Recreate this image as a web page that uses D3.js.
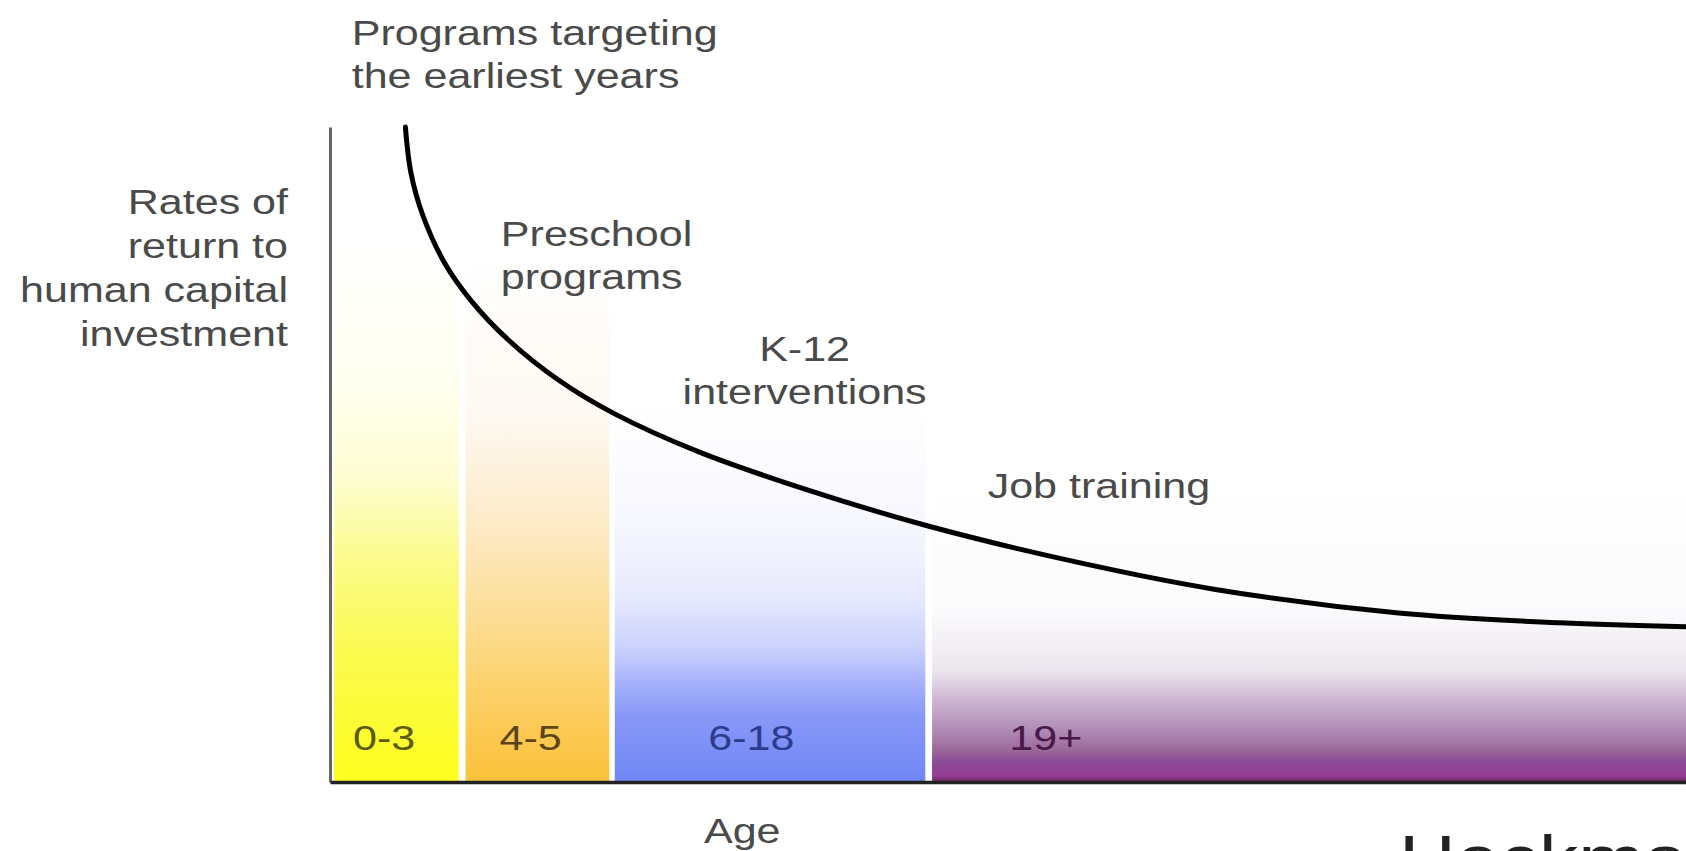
<!DOCTYPE html>
<html>
<head>
<meta charset="utf-8">
<script src="https://cdn.jsdelivr.net/npm/d3@7"></script>
<style>
  html, body { margin: 0; padding: 0; background: #fff; }
  svg { display: block; }
  text { font-family: "Liberation Sans", Arial, sans-serif; }
</style>
</head>
<body>
<div class="container"></div>
<script>
// age groups, as spans on the conceptual age axis (0..100)
const bandNames = ['0-3', '4-5', '6-18', '19+'];
const bandStart = [0.3, 10.0, 21.0, 44.4];
const bandEnd = [9.5, 20.6, 43.9, 100];

// rate of return curve
const curveX = [5.56, 5.96, 6.83, 8.41, 10.4, 13.2, 16.9, 21.0, 27.2, 35.2, 43.9, 55.0, 65.3, 78.8, 90.7, 100];
const curveY = [100, 93.1, 86.6, 79.4, 73.5, 67.4, 61.3, 56.2, 50.4, 44.6, 39.2, 33.6, 29.4, 25.8, 24.3, 23.7];

// annotations
const programLabels = [
  { lines: ['Programs targeting', 'the earliest years'], x: 1.6, y: 112.5, anchor: 'start' },
  { lines: ['Preschool', 'programs'], x: 12.6, y: 81.8, anchor: 'start' },
  { lines: ['K-12', 'interventions'], x: 35.0, y: 64.3, anchor: 'middle' },
  { lines: ['Job training'], x: 48.5, y: 43.4, anchor: 'start' }
];
const yTitle = ['Rates of', 'return to', 'human capital', 'investment'];
const xTitle = 'Age';

// styles
const bandStops = [
  [[0, '#ffffff'], [0.17, '#ffffff'], [0.39, '#fffff0'], [0.54, '#fdfdd0'], [0.65, '#fbfb90'], [0.8, '#fafa50'], [1, '#ffff1e']],
  [[0, '#ffffff'], [0.2, '#ffffff'], [0.45, '#fef8f0'], [0.63, '#fde8c0'], [0.8, '#fcd880'], [0.93, '#fcc850'], [1, '#fbc23a']],
  [[0, '#ffffff'], [0.42, '#ffffff'], [0.6, '#f7f8fe'], [0.72, '#e6e9fd'], [0.8, '#c8cffd'], [0.85, '#a4b0fb'], [0.9, '#8898f8'], [1, '#6f86f4']],
  [[0, '#ffffff'], [0.55, '#ffffff'], [0.74, '#fbfafc'], [0.83, '#ece6ee'], [0.86, '#d8c4dc'], [0.92, '#b08cb6'], [0.95, '#9c6a9c'], [0.97, '#8a4a96'], [0.99, '#963c94'], [1, '#6a2a60']]
];
const bandTextColors = ['#5a5a14', '#5c4418', '#2c3c8c', '#4a1848'];
const bandLabelX = [1.7, 12.5, 27.9, 50.1];

const width = 1686;
const height = 851;
const stretch = 1.23;
const fontSize = 35;
const lineGap = 43;

const x = d3.scaleLinear().domain([0, 100]).range([330, 1686]);
const y = d3.scaleLinear().domain([0, 100]).range([782, 127]);

const svg = d3.select('.container')
  .append('svg')
  .attr('width', width)
  .attr('height', height);

svg.append('rect')
  .attr('width', width)
  .attr('height', height)
  .attr('fill', '#fff');

// gradients for the age bands
const defs = svg.append('defs');
bandStops.forEach((stops, i) => {
  const grad = defs.append('linearGradient')
    .attr('id', 'band' + i)
    .attr('x1', 0).attr('y1', 0)
    .attr('x2', 0).attr('y2', 1);
  grad.selectAll('stop')
    .data(stops)
    .enter()
    .append('stop')
    .attr('offset', d => d[0])
    .attr('stop-color', d => d[1]);
});

// bands
svg.append('g')
  .selectAll('rect')
  .data(bandNames)
  .enter()
  .append('rect')
  .attr('x', (d, i) => x(bandStart[i]))
  .attr('y', y(100))
  .attr('width', (d, i) => x(bandEnd[i]) - x(bandStart[i]))
  .attr('height', y(0) - y(100))
  .attr('fill', (d, i) => `url(#band${i})`);

// helper for the horizontally wide text of the original
function stretchedText(g, str, px, py, anchor, size, color) {
  return g.append('text')
    .attr('transform', `translate(${px},${py}) scale(${stretch},1)`)
    .attr('text-anchor', anchor)
    .attr('font-size', size)
    .attr('fill', color)
    .text(str);
}

// band labels
const bandLabelG = svg.append('g');
bandNames.forEach((name, i) => {
  stretchedText(bandLabelG, name, x(bandLabelX[i]), y(4.9), 'start', fontSize, bandTextColors[i]);
});

// axes
const yAxis = svg.append('g')
  .attr('transform', `translate(${x(0)},0)`)
  .call(d3.axisLeft(y).ticks(0).tickSizeOuter(0));
yAxis.select('.domain').attr('stroke', '#666').attr('stroke-width', 3);

const xAxis = svg.append('g')
  .attr('transform', `translate(0,${y(0)})`)
  .call(d3.axisBottom(x).ticks(0).tickSizeOuter(0));
xAxis.select('.domain').attr('stroke', '#222').attr('stroke-width', 3.5);

// curve
const line = d3.line()
  .x(d => x(d[0]))
  .y(d => y(d[1]))
  .curve(d3.curveCatmullRom.alpha(0.5));

svg.append('path')
  .datum(curveX.map((v, i) => [v, curveY[i]]))
  .attr('d', line)
  .attr('fill', 'none')
  .attr('stroke', '#000')
  .attr('stroke-width', 5)
  .attr('stroke-linecap', 'round');

// program annotations
const annG = svg.append('g');
programLabels.forEach(lab => {
  lab.lines.forEach((ln, j) => {
    stretchedText(annG, ln, x(lab.x), y(lab.y) + j * lineGap, lab.anchor, fontSize, '#4a4a4a');
  });
});

// y title
yTitle.forEach((ln, j) => {
  stretchedText(annG, ln, 288, y(86.7) + j * 44, 'end', fontSize, '#4a4a4a');
});

// x title
stretchedText(annG, xTitle, x(30.4), y(-9.3), 'middle', fontSize, '#4a4a4a');

// logo text cut off at the bottom, as in the original
stretchedText(annG, 'Heckman', 1399, 881, 'start', 64, '#222');
</script>
</body>
</html>
